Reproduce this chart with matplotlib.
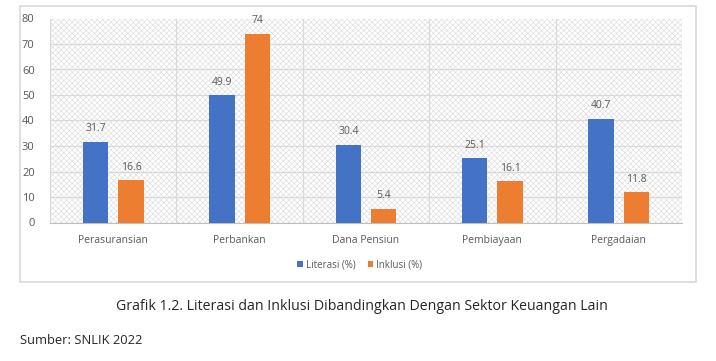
import numpy as np
import matplotlib
matplotlib.use('Agg')
from matplotlib import pyplot as plt
from matplotlib.patches import Rectangle

sektor = ['Perasuransian', 'Perbankan', 'Dana Pensiun', 'Pembiayaan', 'Pergadaian']
literasi = [31.7, 49.9, 30.4, 25.1, 40.7]
inklusi = [16.6, 74, 5.4, 16.1, 11.8]

BLUE = '#4472C4'
ORANGE = '#ED7D31'
TXT = '#595959'

plt.rcParams['font.family'] = ['Open Sans', 'DejaVu Sans']
plt.rcParams['hatch.linewidth'] = 0.4
plt.rcParams['hatch.color'] = '#dadada'

W, H = 716, 361
fig = plt.figure(figsize=(W / 100, H / 100), dpi=100)

# chart frame
fig.patches.append(Rectangle((20 / W, 1 - 282 / H), 676 / W, 276 / H, transform=fig.transFigure,
                             fill=False, edgecolor='#d9d9d9', linewidth=1.2))

ax = fig.add_axes([50 / W, 1 - 222.5 / H, 632 / W, 204 / H])
ax.set_facecolor('white')
ax.add_patch(Rectangle((0, 0), 1, 1, transform=ax.transAxes, facecolor='white',
                       hatch='xxxxxx', edgecolor='#dadada', linewidth=0, zorder=0))

x = np.arange(len(sektor))
bw = 0.2
off = 0.14
b1 = ax.bar(x - off, literasi, bw, color=BLUE, label='Literasi (%)', zorder=3)
b2 = ax.bar(x + off, inklusi, bw, color=ORANGE, label='Inklusi (%)', zorder=3)

for bars, vals in ((b1, literasi), (b2, inklusi)):
    for r, v in zip(bars, vals):
        ax.text(r.get_x() + r.get_width() / 2, v + 3, '{0:g}'.format(v), ha='center', va='bottom',
                fontsize=7.5, color=TXT)

ax.set_xlim(-0.5, len(sektor) - 0.5)
ax.set_ylim(0, 80)
ax.set_yticks(range(0, 81, 10))
ax.set_xticks(x)
ax.set_xticklabels(sektor)
ax.set_xticks(np.arange(-0.5, len(sektor), 1), minor=True)
ax.tick_params(axis='both', which='both', length=0, labelsize=7.5, labelcolor=TXT)
ax.tick_params(axis='y', labelsize=8)
ax.tick_params(axis='x', pad=9)
ax.tick_params(axis='y', pad=11)
ax.grid(axis='y', color='#d9d9d9', linewidth=0.9, zorder=1)
ax.grid(axis='x', which='minor', color='#d9d9d9', linewidth=0.9, zorder=1)
ax.grid(axis='x', which='major', visible=False)
for s in ('top', 'right', 'left'):
    ax.spines[s].set_visible(False)
ax.spines['bottom'].set_color('#bfbfbf')
ax.set_axisbelow(True)

fig.legend(handles=[b1, b2], loc='center', bbox_to_anchor=(360 / W, 1 - 265 / H), ncol=2, frameon=False,
           fontsize=7, handlelength=0.6, handleheight=0.6, handletextpad=0.3, columnspacing=1.2,
           labelcolor=TXT)

fig.text(362 / W, 1 - 306 / H, 'Grafik 1.2. Literasi dan Inklusi Dibandingkan Dengan Sektor Keuangan Lain',
         ha='center', va='center', fontsize=10.2, color='#262626')
fig.text(20 / W, 1 - 340 / H, 'Sumber: SNLIK 2022', ha='left', va='center', fontsize=9.3, color='#262626')

fig.savefig('out.png', dpi=100, facecolor='white')
